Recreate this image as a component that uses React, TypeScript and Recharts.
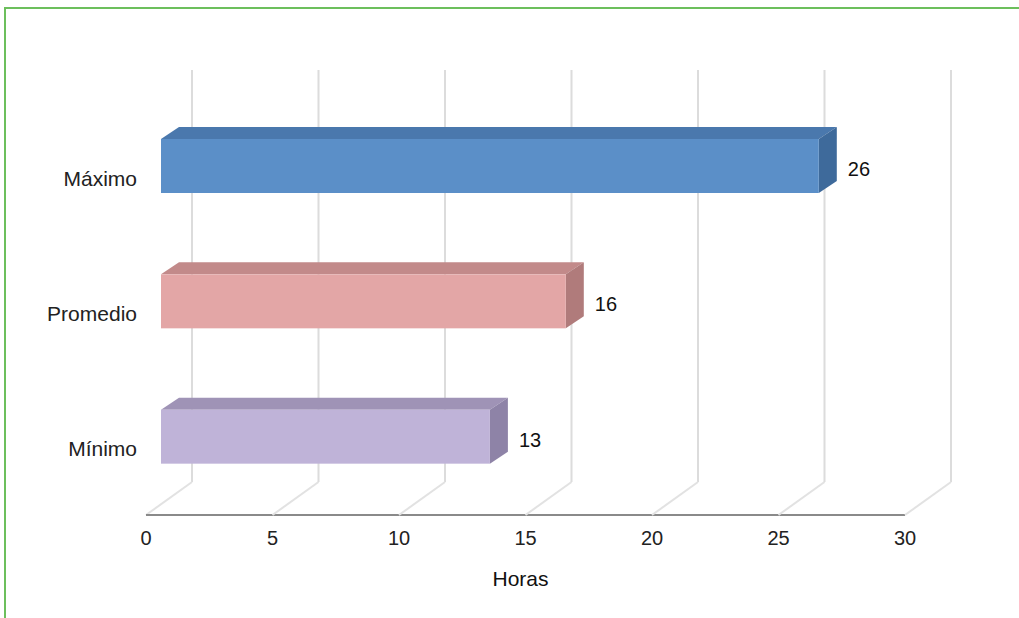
import { BarChart, Bar, XAxis, YAxis, CartesianGrid, LabelList } from 'recharts';

const categories = ['Máximo', 'Promedio', 'Mínimo'];
const horas = [26, 16, 13];
const xTicks = [0, 5, 10, 15, 20, 25, 30];

// front / top / side colours of each 3d bar
const faceColors = [
  { front: '#5b8fc8', top: '#4a78ad', side: '#3e6a9b' },
  { front: '#e3a6a6', top: '#c28a8a', side: '#b07b7b' },
  { front: '#bfb3d8', top: '#9f93b6', side: '#8e83a7' },
];

const data = categories.map((name, i) => ({ name, horas: horas[i], idx: i }));

const DX = 18;
const DY = 12;
const FONT = '"Liberation Sans", Arial, Helvetica, sans-serif';

function Bar3D(props: any) {
  const { x, y, width, height, payload } = props;
  const c = faceColors[payload.idx];
  return (
    <g>
      <polygon
        points={`${x},${y} ${x + DX},${y - DY} ${x + width + DX},${y - DY} ${x + width},${y}`}
        fill={c.top}
      />
      <polygon
        points={`${x + width},${y} ${x + width + DX},${y - DY} ${x + width + DX},${y + height - DY} ${x + width},${y + height}`}
        fill={c.side}
      />
      <rect x={x} y={y} width={width} height={height} fill={c.front} />
    </g>
  );
}

// back wall + floor lines of the 3d grid
function GridLine(props: any) {
  const { x1, y1, y2, index, x, width } = props;
  const bx = x1 + 31;
  return (
    <g key={`g-${index}`}>
      <line x1={bx} y1={y1 - 28} x2={bx} y2={y2 - 22} stroke="#dcdcdc" strokeWidth={2} />
      <line x1={bx} y1={y2 - 22} x2={x1 - 15} y2={y2 + 11} stroke="#e2e2e2" strokeWidth={2} />
      {index === 0 && (
        <line x1={x - 15} y1={y2 + 11} x2={x + width - 15} y2={y2 + 11} stroke="#8a8a8a" strokeWidth={2} />
      )}
    </g>
  );
}

function XTick(props: any) {
  const { x, payload } = props;
  return (
    <text x={x - 15} y={545} textAnchor="middle" fontSize={20} fill="#222" fontFamily={FONT}>
      {payload.value}
    </text>
  );
}

function YTick(props: any) {
  const { y, payload } = props;
  return (
    <text x={137} y={y + 20} textAnchor="end" fontSize={21} fill="#222" fontFamily={FONT}>
      {payload.value}
    </text>
  );
}

function ValueLabel(props: any) {
  const { x, y, width, height, value } = props;
  return (
    <text x={x + width + DX + 11} y={y + height / 2 + 10} fontSize={20} fill="#111" fontFamily={FONT}>
      {value}
    </text>
  );
}

export default function App() {
  return (
    <div style={{ position: 'absolute', left: 0, top: 0, width: 1019, height: 618, background: '#fff', overflow: 'hidden' }}>
      <div
        style={{
          position: 'absolute', left: 4, top: 7, width: 1040, height: 640,
          borderLeft: '2px solid #6cbf5c', borderTop: '2px solid #6cbf5c',
        }}
      />
      <BarChart
        width={1019}
        height={618}
        data={data}
        layout="vertical"
        margin={{ top: 98, right: 99, bottom: 74, left: 21 }}
        barSize={54}
      >
        <CartesianGrid horizontal={false} vertical={GridLine} />
        <XAxis
          type="number"
          domain={[0, 30]}
          ticks={xTicks}
          height={40}
          axisLine={false}
          tickLine={false}
          tick={XTick}
          label={{
            value: 'Horas',
            content: (p: any) => (
              <text
                x={p.viewBox.x + p.viewBox.width / 2 - 20}
                y={586}
                textAnchor="middle"
                fontSize={21}
                fill="#111"
                fontFamily={FONT}
              >
                Horas
              </text>
            ),
          }}
        />
        <YAxis type="category" dataKey="name" width={140} axisLine={false} tickLine={false} tick={YTick} />
        <Bar dataKey="horas" shape={Bar3D} isAnimationActive={false}>
          <LabelList dataKey="horas" content={ValueLabel} />
        </Bar>
      </BarChart>
    </div>
  );
}
